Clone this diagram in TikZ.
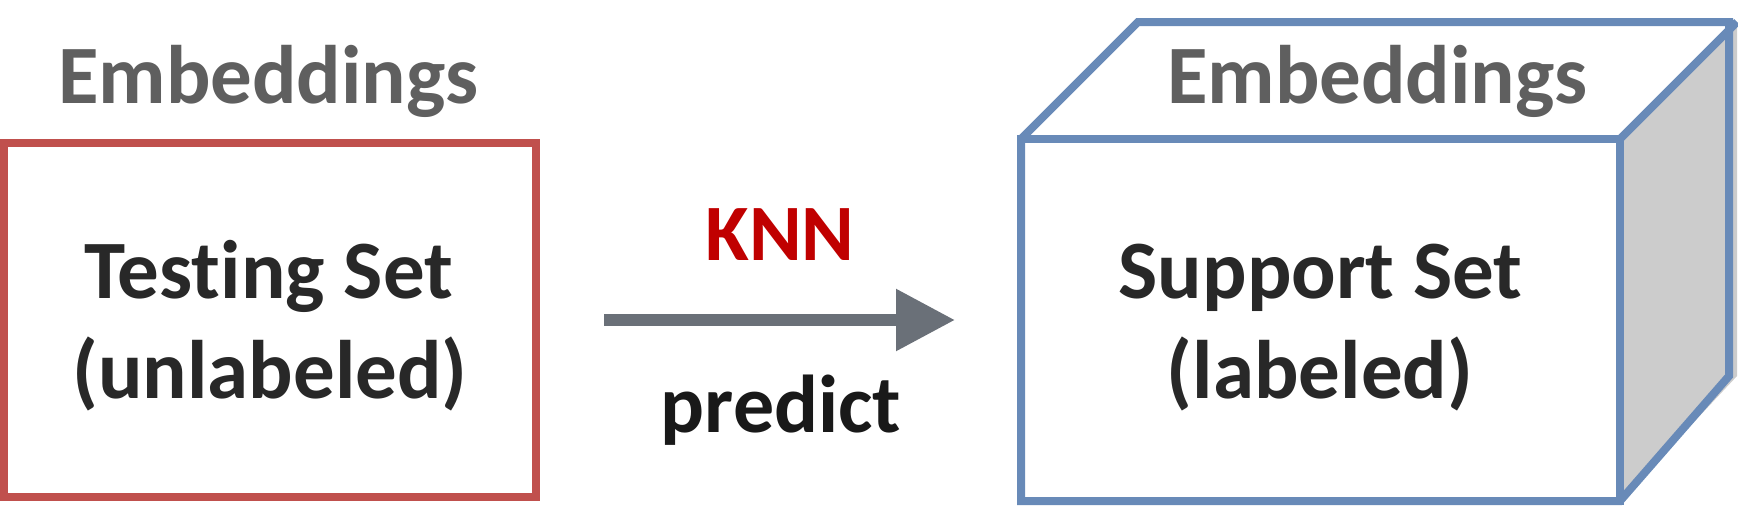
\documentclass[tikz,border=0pt]{standalone}
\usepackage{fontspec}
\setmainfont{Carlito}[Ligatures=NoCommon]
\usetikzlibrary{arrows.meta}
\definecolor{boxred}{RGB}{192,80,77}
\definecolor{boxblue}{RGB}{104,138,184}
\definecolor{embgray}{RGB}{95,95,95}
\definecolor{txtdark}{RGB}{40,40,40}
\definecolor{knnred}{RGB}{192,0,0}
\definecolor{arrgray}{RGB}{106,112,120}
\definecolor{sidegray}{RGB}{204,204,204}
\tikzset{
  bigtxt/.style={inner sep=0pt, anchor=base, font=\fontsize{83}{96}\selectfont\bfseries},
  frame/.style={line width=8pt, minimum width=#1, minimum height=354pt, inner sep=0pt},
}
\begin{document}
\begin{tikzpicture}[x=1pt,y=-1pt]
\useasboundingbox (0,0) rectangle (1738,506);
\fill[white] (0,0) rectangle (1738,506);
% left box
\node[frame=532pt, draw=boxred] (testbox) at (270,320) {};
\node[bigtxt, text=embgray] (emb1) at (268.5,103) {Embeddings};
\node[bigtxt, text=txtdark] (test1) at (268.5,298) {Testing Set};
\node[bigtxt, text=txtdark] (test2) at (270,398) {(unlabeled)};
% cube
\node[frame=591pt] (supbox) at (1320.5,320) {};
\fill[sidegray] (supbox.north east) -- ++(117,-117) -- ++(0,354) -- (supbox.south east) -- cycle;
\draw[boxblue, line width=8pt] (supbox.north west) -- ++(117,-117) -- ++(591,0) -- ++(0,354) -- (supbox.south east)
  -- (supbox.south west) -- cycle;
\draw[boxblue, line width=8pt] (supbox.north west) rectangle (supbox.south east);
\draw[boxblue, line width=8pt] (supbox.north east) -- ++(117,-117);
\node[bigtxt, text=embgray] (emb2) at (1377.5,103) {Embeddings};
\node[bigtxt, text=txtdark] (sup1) at (1320.5,298) {Support Set};
\node[bigtxt, text=txtdark] (sup2) at (1320,398) {(labeled)};
% arrow
\coordinate (arrS) at (604,320);
\coordinate (arrE) at (955,320);
\draw[arrgray, line width=12pt, -{Triangle[length=59pt, width=59pt]}] (arrS) -- (arrE);
\node[bigtxt, text=knnred, font=\fontsize{80}{96}\selectfont\bfseries] (knn) at (780,260) {KNN};
\node[bigtxt, text=black!90, font=\fontsize{82}{96}\selectfont\bfseries] (pred) at (781,432) {predict};
\end{tikzpicture}
\end{document}
